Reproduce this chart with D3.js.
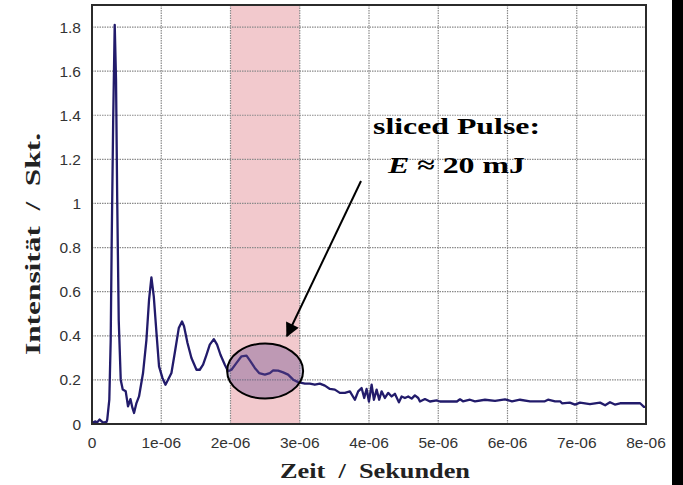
<!DOCTYPE html>
<html>
<head>
<meta charset="utf-8">
<script src="https://cdn.jsdelivr.net/npm/d3@7"></script>
<style>
  body { margin: 0; background: #fff; }
  svg { display: block; }
  text { white-space: pre; }
</style>
</head>
<body>
<svg id="chart" width="683" height="485"></svg>
<script>
// pulse trace, time in microseconds
var timeUs = [0, 0.05, 0.07, 0.11, 0.16, 0.21, 0.22, 0.25, 0.27, 0.285, 0.306, 0.328, 0.347, 0.364, 0.386, 0.415,
  0.444, 0.487, 0.52, 0.555, 0.584, 0.607, 0.642, 0.679, 0.737, 0.786, 0.824, 0.858, 0.892, 0.931, 0.968,
  1.017, 1.061, 1.098, 1.147, 1.195, 1.253, 1.30, 1.329, 1.379, 1.436, 1.509, 1.556, 1.604, 1.653, 1.701,
  1.759, 1.806, 1.855, 1.918, 1.965, 2.014, 2.087, 2.159, 2.231, 2.289, 2.351, 2.413, 2.496, 2.568, 2.616,
  2.688, 2.76, 2.832, 2.905, 2.977, 3.074, 3.146, 3.218, 3.29, 3.363, 3.435, 3.507, 3.579, 3.652, 3.724,
  3.796, 3.844, 3.893, 3.931, 3.965, 3.999, 4.038, 4.071, 4.11, 4.147, 4.182, 4.23, 4.277, 4.327, 4.374,
  4.432, 4.471, 4.519, 4.566, 4.616, 4.663, 4.711, 4.736, 4.808, 4.88, 4.977, 5.025, 5.27, 5.314, 5.357,
  5.458, 5.53, 5.675, 5.82, 5.964, 6.065, 6.18, 6.325, 6.54, 6.585, 6.687, 6.76, 6.787, 6.9, 6.974, 7.047,
  7.19, 7.337, 7.41, 7.48, 7.55, 7.626, 7.915, 7.97, 8.0];
var intensity = [0.004, 0.012, 0.006, 0.02, 0.006, 0.01, 0.02, 0.11, 0.38, 0.84, 1.38, 1.81, 1.56, 1.02, 0.47, 0.20,
  0.156, 0.148, 0.08, 0.113, 0.073, 0.05, 0.095, 0.125, 0.231, 0.382, 0.564, 0.665, 0.579, 0.413, 0.261,
  0.209, 0.178, 0.201, 0.231, 0.322, 0.435, 0.465, 0.443, 0.367, 0.299, 0.246, 0.246, 0.269, 0.314, 0.36,
  0.385, 0.36, 0.314, 0.269, 0.239, 0.246, 0.277, 0.307, 0.31, 0.284, 0.254, 0.231, 0.224, 0.231, 0.243,
  0.242, 0.234, 0.224, 0.201, 0.19, 0.183, 0.183, 0.178, 0.183, 0.174, 0.159, 0.156, 0.141, 0.141, 0.148,
  0.11, 0.148, 0.163, 0.118, 0.159, 0.102, 0.178, 0.11, 0.156, 0.11, 0.148, 0.118, 0.141, 0.125, 0.137,
  0.098, 0.125, 0.118, 0.125, 0.115, 0.13, 0.118, 0.102, 0.113, 0.102, 0.107, 0.102, 0.102, 0.112, 0.103,
  0.11, 0.103, 0.11, 0.105, 0.112, 0.103, 0.11, 0.103, 0.103, 0.11, 0.103, 0.103, 0.094, 0.097, 0.088, 0.097,
  0.09, 0.097, 0.085, 0.099, 0.088, 0.094, 0.094, 0.078, 0.078];

var xTicks = [0, 1e-6, 2e-6, 3e-6, 4e-6, 5e-6, 6e-6, 7e-6, 8e-6];
var xTickLabels = ["0", "1e-06", "2e-06", "3e-06", "4e-06", "5e-06", "6e-06", "7e-06", "8e-06"];
var yTicks = [0, 0.2, 0.4, 0.6, 0.8, 1, 1.2, 1.4, 1.6, 1.8];
var yTickLabels = ["0", "0.2", "0.4", "0.6", "0.8", "1", "1.2", "1.4", "1.6", "1.8"];
var sliceWindow = [2e-6, 3e-6];

(function() {
  var svg = d3.select("#chart");
  var plotLeft = 92, plotRight = 646, plotTop = 5, plotBottom = 424;
  var serif = "Liberation Serif, Times New Roman, serif";

  var x = d3.scaleLinear().domain([0, 8e-6]).range([plotLeft, plotRight]);
  var y = d3.scaleLinear().domain([0, 1.9]).range([plotBottom, plotTop]);

  var defs = svg.append("defs");
  defs.append("marker")
    .attr("id", "head").attr("viewBox", "0 0 10 10").attr("refX", 9).attr("refY", 5)
    .attr("markerWidth", 17).attr("markerHeight", 14).attr("markerUnits", "userSpaceOnUse")
    .attr("orient", "auto")
    .append("path").attr("d", "M0,0 L10,5 L0,10 z").attr("fill", "#000");

  // black strip at the right edge of the scan
  svg.append("rect").attr("x", 672).attr("y", 0).attr("width", 11).attr("height", 485).attr("fill", "#000");

  // slice window
  svg.append("rect")
    .attr("x", x(sliceWindow[0])).attr("y", plotTop)
    .attr("width", x(sliceWindow[1]) - x(sliceWindow[0]))
    .attr("height", plotBottom - plotTop)
    .attr("fill", "#f2c9cd");

  // grid
  var grid = svg.append("g").attr("stroke", "#8a8a8a").attr("stroke-width", 1.2).attr("stroke-dasharray", "1.5,1");
  grid.selectAll("line.v").data(xTicks.slice(1, -1)).enter().append("line")
    .attr("x1", function(d) { return x(d); }).attr("x2", function(d) { return x(d); })
    .attr("y1", plotTop).attr("y2", plotBottom);
  grid.selectAll("line.h").data(yTicks.slice(1)).enter().append("line")
    .attr("x1", plotLeft).attr("x2", plotRight)
    .attr("y1", function(d) { return y(d); }).attr("y2", function(d) { return y(d); });

  // trace
  var points = timeUs.map(function(t, i) { return [t * 1e-6, intensity[i]]; });
  var line = d3.line().x(function(d) { return x(d[0]); }).y(function(d) { return y(d[1]); });
  svg.append("path").datum(points)
    .attr("d", line)
    .attr("fill", "none")
    .attr("stroke", "#221b6b")
    .attr("stroke-width", 2.3)
    .attr("stroke-linejoin", "round");

  // frame
  svg.append("rect").attr("x", plotLeft).attr("y", plotTop)
    .attr("width", plotRight - plotLeft).attr("height", plotBottom - plotTop)
    .attr("fill", "none").attr("stroke", "#2b2b2b").attr("stroke-width", 2);

  // ellipse round the sliced pulse
  svg.append("ellipse")
    .attr("cx", x(2.5e-6)).attr("cy", y(0.24))
    .attr("rx", 38).attr("ry", 27.5)
    .attr("fill", "rgba(105,75,140,0.38)")
    .attr("stroke", "#000").attr("stroke-width", 2);

  // tick labels
  svg.append("g").selectAll("text").data(xTicks).enter().append("text")
    .attr("x", function(d) { return x(d); }).attr("y", 448)
    .attr("text-anchor", "middle")
    .attr("font-family", "Liberation Sans, Arial, sans-serif").attr("font-size", 15.5).attr("fill", "#333")
    .text(function(d, i) { return xTickLabels[i]; });
  svg.append("g").selectAll("text").data(yTicks).enter().append("text")
    .attr("x", 81).attr("y", function(d) { return y(d) + 5.5; })
    .attr("text-anchor", "end")
    .attr("font-family", "Liberation Sans, Arial, sans-serif").attr("font-size", 15.5).attr("fill", "#333")
    .text(function(d, i) { return yTickLabels[i]; });

  // axis titles
  svg.append("text")
    .attr("x", 280).attr("y", 478)
    .attr("textLength", 190).attr("lengthAdjust", "spacingAndGlyphs")
    .attr("font-family", serif).attr("font-weight", "bold").attr("font-size", 22)
    .attr("fill", "#222")
    .text("Zeit  /  Sekunden");
  svg.append("text")
    .attr("transform", "translate(40,355) rotate(-90)")
    .attr("textLength", 222).attr("lengthAdjust", "spacingAndGlyphs")
    .attr("font-family", serif).attr("font-weight", "bold").attr("font-size", 22)
    .attr("fill", "#222")
    .text("Intensität  /  Skt.");

  // annotation
  var note = svg.append("g")
    .attr("font-family", serif).attr("font-weight", "bold").attr("font-size", 24)
    .attr("fill", "#000");
  note.append("text").attr("x", 373).attr("y", 134)
    .attr("textLength", 167).attr("lengthAdjust", "spacingAndGlyphs")
    .text("sliced Pulse:");
  var e = note.append("text").attr("x", 388).attr("y", 173)
    .attr("textLength", 137).attr("lengthAdjust", "spacingAndGlyphs");
  e.append("tspan").attr("font-style", "italic").text("E");
  e.append("tspan").text(" ≈ 20 mJ");

  // arrow
  svg.append("line")
    .attr("x1", 361).attr("y1", 181).attr("x2", 287).attr("y2", 336)
    .attr("stroke", "#000").attr("stroke-width", 2)
    .attr("marker-end", "url(#head)");
})();
</script>
</body>
</html>
